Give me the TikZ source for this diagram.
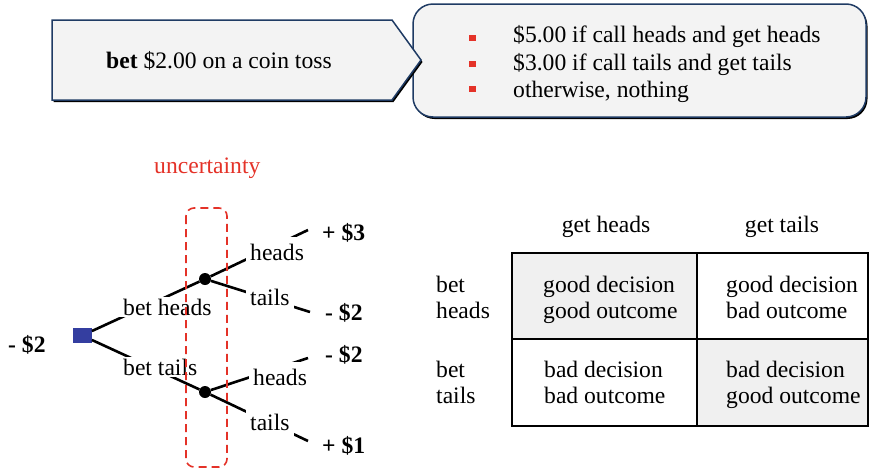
\documentclass[tikz,border=0pt]{standalone}
\usepackage{fontspec}
\setmainfont{Liberation Serif}
\usetikzlibrary{shadows}
\definecolor{boxblue}{RGB}{31,59,100}
\definecolor{boxgray}{RGB}{243,243,243}
\definecolor{cellgray}{RGB}{240,240,240}
\definecolor{uncred}{RGB}{228,50,40}
\definecolor{sqblue}{RGB}{52,62,160}
\begin{document}
\begin{tikzpicture}[x=1pt,y=-1pt,font=\fontsize{23.6}{26}\selectfont,
  txt/.style={anchor=base west,inner sep=0pt},
  pay/.style={anchor=base west,inner sep=0pt,font=\fontsize{23.6}{26}\selectfont\bfseries},
  act/.style={anchor=base west,fill=white,inner xsep=4pt,inner ysep=2pt},
  branch/.style={anchor=base west,fill=white,inner xsep=4pt,inner ysep=7pt},
  chance/.style={circle,fill=black,inner sep=0pt,minimum size=12pt},
  shadowed/.style={drop shadow={opacity=1,fill=black,shadow xshift=1.5pt,shadow yshift=-2pt}}]
\useasboundingbox (0,0) rectangle (869,469);
% the bet and its payoffs
\draw [boxblue,fill=boxgray,line width=1.5pt,rounded corners=20pt,shadowed] (413,4) rectangle (866,117);
\draw [boxblue,fill=boxgray,line width=1.5pt,shadowed] (52,20) -- (392,20) -- (421,60) -- (392,100) -- (52,100) -- cycle;
\node [txt] (bet) at (106,68) {\textbf{bet} \$2.00 on a coin toss};
\foreach \y in {35,61,86} \fill [uncred] (469,\y) rectangle +(7,6);
\node [txt] (win1) at (513,42) {\$5.00 if call heads and get heads};
\node [txt] (win2) at (513,70) {\$3.00 if call tails and get tails};
\node [txt] (win3) at (513,97) {otherwise, nothing};
% decision tree
\node [fill=sqblue,minimum width=19pt,minimum height=15pt,inner sep=0pt] (dec) at (82.2,335.5) {};
\node [chance] (c1) at (205,279) {};
\node [chance] (c2) at (205,392) {};
\coordinate (e1) at (308,230);
\coordinate (e2) at (310,312);
\coordinate (e3) at (308,358);
\coordinate (e4) at (308,441);
\draw [line width=2.6pt] (dec) -- (c1);
\draw [line width=2.6pt] (dec) -- (c2);
\draw [line width=2.6pt] (c1) -- (e1);
\draw [line width=2.6pt] (c1) -- (e2);
\draw [line width=2.6pt] (c2) -- (e3);
\draw [line width=2.6pt] (c2) -- (e4);
\node [act] (bh) at (119,315) {bet heads};
\node [act] (bt) at (119,375) {bet tails};
\node [branch] (h1) at (246,260) {heads};
\node [branch] (t1) at (246,305) {tails};
\node [branch] (h2) at (249,385) {heads};
\node [branch] (t2) at (246,430) {tails};
\node [pay] (p0) at (8,352) {- \$2};
\node [pay] (p1) at (322,240) {+ \$3};
\node [pay] (p2) at (325,320) {- \$2};
\node [pay] (p3) at (325,362) {- \$2};
\node [pay] (p4) at (322,453) {+ \$1};
\node [txt,text=uncred] (unc) at (154,173) {uncertainty};
\draw [uncred,line width=1.6pt,rounded corners=8pt,dash pattern=on 8pt off 5pt] (186,208) rectangle (227,467);
% outcome table
\fill [cellgray] (512,253) rectangle (697,339);
\fill [cellgray] (697,339) rectangle (868,426);
\draw [line width=2pt] (512,253) rectangle (868,426);
\draw [line width=2pt] (697,253) -- (697,426);
\draw [line width=2pt] (512,339) -- (868,339);
\node [anchor=base,inner sep=0pt] (gh) at (606,232) {get heads};
\node [anchor=base,inner sep=0pt] (gt) at (782,232) {get tails};
\node [txt,align=left] (rh) at (436,318) {bet\\heads};
\node [txt,align=left] (rt) at (436,403) {bet\\tails};
\node [txt,align=left] (hh) at (543,318) {good decision\\good outcome};
\node [txt,align=left] (ht) at (726,318) {good decision\\bad outcome};
\node [txt,align=left] (th) at (544,403) {bad decision\\bad outcome};
\node [txt,align=left] (tt) at (726,403) {bad decision\\good outcome};
\end{tikzpicture}
\end{document}
